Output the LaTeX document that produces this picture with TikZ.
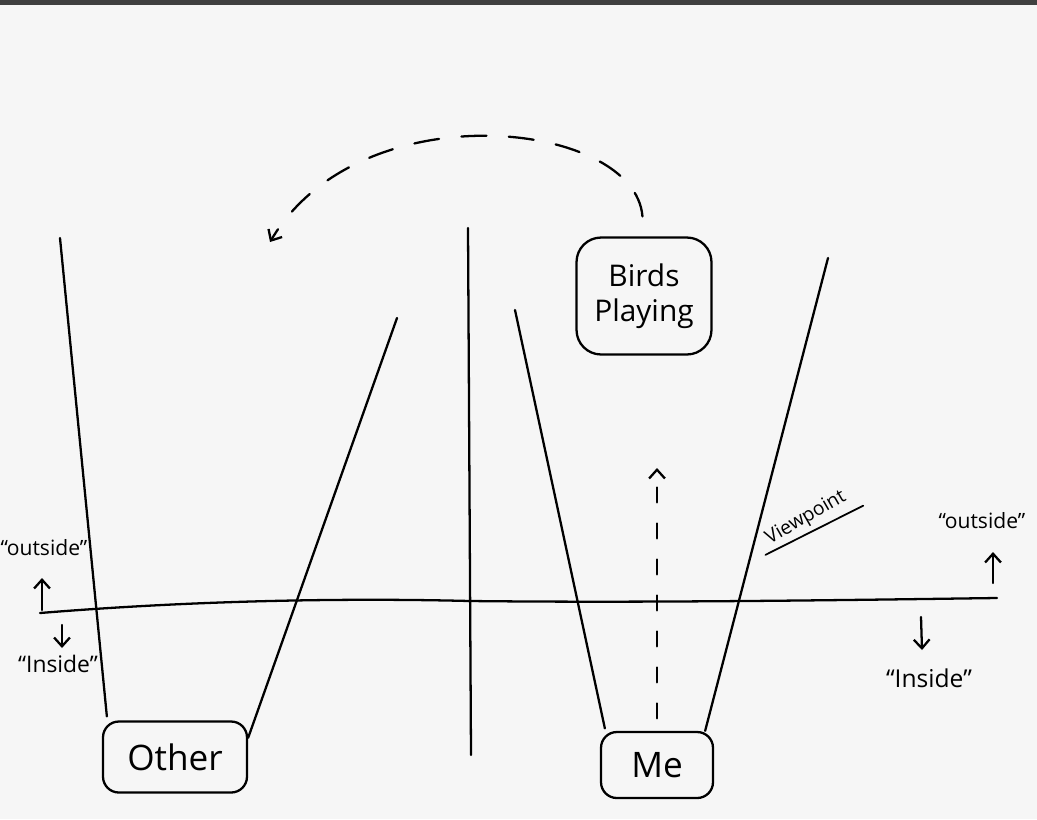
\documentclass[tikz,border=0pt]{standalone}
\usepackage{fontspec}
\setmainfont{Open Sans}
\usetikzlibrary{arrows.meta}

\begin{document}
\begin{tikzpicture}[
  x=0.02cm, y=-0.02cm,
  every node/.style={align=center, inner sep=0pt},
  pen/.style={line width=1.3pt, line cap=round},
  box/.style={draw, line width=1.3pt, rounded corners=9pt},
  arrow/.style={pen, -{Straight Barb[length=5pt, width=9pt]}},
  note/.style={font=\fontsize{12}{14}\selectfont}
]
% paper
\fill[gray!7] (0,0) rectangle (1037,819);
\fill[black!75] (0,0) rectangle (1037,5);

% boxes
\node[box, minimum width=2.88cm, minimum height=1.42cm, font=\fontsize{20}{24}\selectfont] (other) at (175,757) {Other};
\node[box, minimum width=2.24cm, minimum height=1.32cm, font=\fontsize{20}{24}\selectfont] (me) at (657,765) {Me};
\node[box, rounded corners=14pt, minimum width=2.7cm, minimum height=2.34cm, font=\fontsize{17}{20}\selectfont] (birds) at (644,296) {Birds\\Playing};

% horizon and divider
\draw[pen] (40,613) .. controls (200,600) and (350,598) .. (470,601)
  .. controls (650,603) and (850,600) .. (997,598);
\coordinate (divtop) at (468,228);
\coordinate (divbot) at (471,755);
\draw[pen] (divtop) -- (divbot);

% viewing cones
\coordinate (oleft) at (60,238);
\coordinate (oright) at (397,318);
\coordinate (mleft) at (515,310);
\coordinate (mright) at (828,258);
\draw[pen] (oleft) -- ([xshift=0.1cm, yshift=0.08cm]other.north west);
\draw[pen] (oright) -- ([yshift=-0.35cm]other.north east);
\draw[pen] (mleft) -- ([xshift=0.1cm, yshift=0.05cm]me.north west);
\draw[pen] (mright) -- ([xshift=-0.18cm]me.north east);

% sight lines
\coordinate (seen) at (657,468);
\coordinate (tossed) at (270,242);
\draw[arrow, dash pattern=on 0.3cm off 0.42cm, shorten <=0.25cm] (me.north) -- (seen);
\draw[arrow, dash pattern=on 0.5cm off 0.45cm, shorten <=0.4cm] (birds.north)
  .. controls (635,120) and (360,90) .. (tossed);

% viewpoint
\node[rotate=30, inner sep=2.5pt, font=\fontsize{11}{13}\selectfont] (vp) at (806,518) {Viewpoint};
\draw[pen, line width=1pt] ([xshift=-0.1cm]vp.south west) -- ([xshift=0.15cm]vp.south east);

% outside / inside, left
\node[note] (lout) at (44,548) {“outside”};
\node[note, font=\fontsize{13}{15}\selectfont] (lin) at (58,664) {“Inside”};
\coordinate (lupfoot) at (42,610);
\coordinate (lupend) at (42,578);
\coordinate (ldownfoot) at (62,625);
\coordinate (ldownend) at (62,648);
\draw[arrow] (lupfoot) -- (lupend);
\draw[arrow] (ldownfoot) -- (ldownend);

% outside / inside, right
\node[note] (rout) at (982,521) {“outside”};
\node[note, font=\fontsize{14}{16}\selectfont] (rin) at (929,678) {“Inside”};
\coordinate (rupfoot) at (993,583);
\coordinate (rupend) at (993,552);
\coordinate (rdownfoot) at (921,617);
\coordinate (rdownend) at (922,650);
\draw[arrow] (rupfoot) -- (rupend);
\draw[arrow] (rdownfoot) -- (rdownend);
\end{tikzpicture}
\end{document}
